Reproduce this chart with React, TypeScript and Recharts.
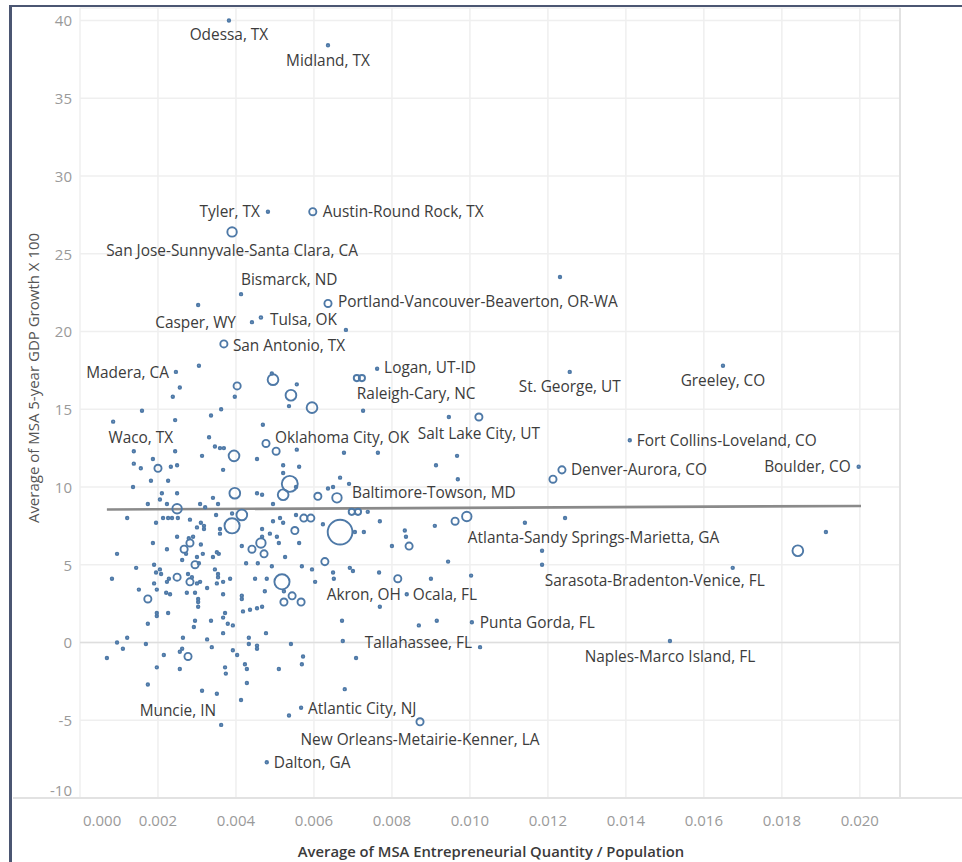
import React from 'react';
import {
  ScatterChart,
  Scatter,
  XAxis,
  YAxis,
  ZAxis,
  CartesianGrid,
  ReferenceLine,
} from 'recharts';

// x = entrepreneurial quantity / population, y = 5-year GDP growth x 100, pop = relative metro size
const labeledMetros: [string, number, number, number][] = [
  ['Odessa, TX', 0.00382, 40.0, 5],
  ['Midland, TX', 0.00636, 38.4, 5],
  ['Tyler, TX', 0.00482, 27.7, 5],
  ['Austin-Round Rock, TX', 0.00597, 27.7, 40],
  ['San Jose-Sunnyvale-Santa Clara, CA', 0.0039, 26.4, 70],
  ['Bismarck, ND', 0.00413, 22.4, 5],
  ['Portland-Vancouver-Beaverton, OR-WA', 0.00636, 21.8, 40],
  ['Casper, WY', 0.00441, 20.6, 5],
  ['Tulsa, OK', 0.00464, 20.9, 6],
  ['San Antonio, TX', 0.00369, 19.2, 40],
  ['Madera, CA', 0.00246, 17.4, 5],
  ['Logan, UT-ID', 0.00762, 17.6, 5],
  ['Raleigh-Cary, NC', 0.0071, 17.0, 30],
  ['St. George, UT', 0.01256, 17.4, 5],
  ['Greeley, CO', 0.01649, 17.8, 5],
  ['Salt Lake City, UT', 0.01023, 14.5, 40],
  ['Oklahoma City, OK', 0.00477, 12.8, 40],
  ['Waco, TX', 0.00138, 12.3, 5],
  ['Denver-Aurora, CO', 0.01236, 11.1, 40],
  ['Fort Collins-Loveland, CO', 0.0141, 13.0, 5],
  ['Boulder, CO', 0.01997, 11.3, 5],
  ['Baltimore-Towson, MD', 0.00659, 9.3, 70],
  ['Atlanta-Sandy Springs-Marietta, GA', 0.00992, 8.1, 70],
  ['Sarasota-Bradenton-Venice, FL', 0.01674, 4.8, 5],
  ['Naples-Marco Island, FL', 0.01513, 0.1, 5],
  ['Akron, OH', 0.00815, 4.1, 40],
  ['Ocala, FL', 0.00838, 3.1, 5],
  ['Punta Gorda, FL', 0.01005, 1.3, 5],
  ['Tallahassee, FL', 0.01026, -0.3, 5],
  ['Muncie, IN', 0.00362, -5.3, 5],
  ['Atlantic City, NJ', 0.00567, -4.2, 5],
  ['New Orleans-Metairie-Kenner, LA', 0.00872, -5.1, 40],
  ['Dalton, GA', 0.00479, -7.7, 5],
];

const otherMetros: [number, number, number][] = [
  [0.01231, 23.5, 5], [0.00303, 21.7, 5], [0.00682, 20.1, 5], [0.00305, 17.8, 5],
  [0.00723, 17.0, 30], [0.00495, 16.9, 90], [0.00492, 17.3, 5], [0.00256, 16.4, 5],
  [0.00238, 15.8, 5], [0.00403, 16.5, 40], [0.00397, 15.8, 5], [0.00556, 16.6, 5],
  [0.00541, 15.9, 90], [0.00536, 15.2, 5], [0.00595, 15.1, 90], [0.00085, 14.2, 5],
  [0.00159, 14.9, 5], [0.00244, 14.3, 5], [0.00336, 14.6, 5], [0.00362, 15.0, 5],
  [0.00469, 14.0, 5], [0.00331, 13.2, 5], [0.00346, 12.6, 5], [0.00359, 12.5, 5],
  [0.00369, 12.5, 5], [0.00395, 12.0, 90], [0.00313, 12.0, 5], [0.00454, 11.8, 5],
  [0.00503, 12.3, 40], [0.00556, 12.4, 5], [0.00187, 11.8, 5], [0.00244, 12.3, 5],
  [0.00138, 11.5, 5], [0.00156, 11.2, 5], [0.002, 11.2, 40], [0.00233, 11.3, 5],
  [0.00249, 11.4, 5], [0.00367, 11.1, 5], [0.00521, 11.4, 5], [0.00521, 10.9, 5],
  [0.00562, 11.3, 5], [0.00136, 10.0, 5], [0.00182, 10.4, 5], [0.00226, 10.4, 5],
  [0.0021, 9.6, 5], [0.00249, 9.6, 5], [0.00397, 9.6, 90], [0.00454, 9.6, 5],
  [0.00467, 9.5, 5], [0.00538, 10.2, 200], [0.00521, 9.5, 90], [0.00554, 10.0, 5],
  [0.00495, 8.9, 5], [0.0061, 9.4, 40], [0.00636, 9.9, 5], [0.00649, 10.0, 5],
  [0.00174, 8.9, 5], [0.00205, 9.2, 5], [0.00223, 8.9, 5], [0.00249, 8.6, 70],
  [0.00308, 8.9, 5], [0.00321, 8.7, 5], [0.00341, 9.3, 5], [0.00354, 8.9, 5],
  [0.00121, 8.0, 5], [0.00195, 7.7, 5], [0.00213, 8.0, 5], [0.00226, 8.0, 5],
  [0.00236, 8.0, 5], [0.00251, 8.0, 5], [0.00282, 7.9, 5], [0.003, 7.4, 5],
  [0.0031, 7.7, 5], [0.00318, 7.5, 5], [0.00318, 7.3, 5], [0.00349, 8.2, 5],
  [0.0039, 7.5, 180], [0.00415, 8.2, 90], [0.00359, 7.3, 5], [0.00359, 7.0, 5],
  [0.0039, 8.3, 5], [0.00467, 7.3, 5], [0.00495, 7.8, 5], [0.00513, 8.0, 5],
  [0.00521, 7.7, 5], [0.00554, 8.2, 5], [0.00574, 8.0, 40], [0.00592, 8.0, 40],
  [0.00623, 7.6, 5], [0.00667, 7.1, 480], [0.00279, 6.7, 5], [0.0029, 6.8, 5],
  [0.00467, 6.8, 5], [0.00487, 7.0, 5], [0.00505, 6.8, 5], [0.00551, 7.2, 40],
  [0.00187, 6.4, 5], [0.00223, 6.0, 5], [0.00249, 6.8, 5], [0.00282, 6.4, 40],
  [0.00267, 6.0, 40], [0.0031, 6.3, 5], [0.00262, 5.3, 5], [0.00272, 5.7, 5],
  [0.003, 5.5, 5], [0.00315, 5.7, 5], [0.00295, 5.0, 40], [0.00305, 5.1, 5],
  [0.00341, 5.5, 5], [0.00351, 5.8, 5], [0.00356, 5.7, 5], [0.00415, 6.2, 5],
  [0.00441, 6.0, 40], [0.00464, 6.4, 70], [0.00426, 5.1, 5], [0.00472, 5.7, 40],
  [0.00456, 5.1, 5], [0.00492, 4.9, 5], [0.0051, 6.4, 5], [0.00562, 6.4, 5],
  [0.00526, 5.5, 5], [0.00569, 4.9, 5], [0.00595, 4.7, 5], [0.00628, 5.2, 40],
  [0.00649, 4.5, 5], [0.00651, 4.1, 5], [0.00095, 5.7, 5], [0.00144, 4.8, 5],
  [0.00082, 4.1, 5], [0.00151, 3.4, 5], [0.0019, 5.0, 5], [0.00195, 4.5, 5],
  [0.00205, 4.7, 5], [0.00208, 4.4, 5], [0.00223, 3.9, 5], [0.00228, 4.1, 5],
  [0.00249, 4.2, 40], [0.0019, 3.8, 5], [0.00197, 3.4, 5], [0.00221, 3.2, 5],
  [0.00231, 3.1, 5], [0.00174, 2.8, 40], [0.00277, 4.4, 5], [0.00287, 4.2, 5],
  [0.00282, 3.9, 40], [0.00274, 3.2, 5], [0.003, 3.8, 5], [0.00308, 3.9, 5],
  [0.00326, 3.5, 5], [0.00346, 4.7, 5], [0.00354, 4.4, 5], [0.00354, 4.2, 5],
  [0.00351, 3.8, 5], [0.00367, 3.9, 5], [0.00385, 4.1, 5], [0.00295, 3.2, 5],
  [0.00303, 2.8, 5], [0.00303, 2.6, 5], [0.00303, 2.3, 5], [0.00367, 3.1, 5],
  [0.00449, 4.1, 5], [0.00479, 4.1, 5], [0.00518, 3.9, 180], [0.00523, 3.3, 5],
  [0.00523, 2.6, 40], [0.00544, 3.0, 40], [0.00567, 2.6, 40], [0.00474, 3.3, 5],
  [0.00415, 3.0, 5], [0.00415, 2.8, 5], [0.00418, 2.0, 5], [0.00436, 2.1, 5],
  [0.00454, 2.2, 5], [0.00467, 2.3, 5], [0.00603, 3.9, 5], [0.00197, 1.9, 5],
  [0.00197, 1.7, 5], [0.00226, 1.9, 5], [0.00174, 1.2, 5], [0.00295, 1.4, 5],
  [0.00292, 1.0, 5], [0.00336, 1.4, 5], [0.00372, 1.9, 5], [0.00367, 1.6, 5],
  [0.00392, 1.1, 5], [0.00367, 0.6, 5], [0.00477, 0.6, 5], [0.00095, 0.0, 5],
  [0.00121, 0.3, 5], [0.0011, -0.4, 5], [0.00169, -0.1, 5], [0.00069, -1.0, 5],
  [0.00264, 0.3, 5], [0.00262, -0.4, 5], [0.00256, -0.6, 5], [0.00277, -0.9, 40],
  [0.00326, 0.2, 5], [0.00338, -0.3, 5], [0.00392, -0.5, 5], [0.00403, -0.8, 5],
  [0.00433, 0.3, 5], [0.00433, -0.1, 5], [0.00454, -0.2, 5], [0.00454, -0.4, 5],
  [0.00541, -0.1, 5], [0.00572, -0.9, 5], [0.00569, -1.4, 5], [0.00215, -0.8, 5],
  [0.00197, -1.6, 5], [0.00256, -1.7, 5], [0.00372, -1.6, 5], [0.00374, -2.0, 5],
  [0.00423, -1.4, 5], [0.00428, -1.7, 5], [0.0051, -1.7, 5], [0.00428, -2.6, 5],
  [0.00174, -2.7, 5], [0.00313, -3.1, 5], [0.00351, -3.3, 5], [0.00413, -3.7, 5],
  [0.00536, -4.7, 5], [0.00379, 1.2, 5], [0.00726, 14.9, 5], [0.00946, 14.5, 5],
  [0.00677, 12.2, 5], [0.00764, 12.2, 5], [0.00967, 12.0, 5], [0.00913, 11.4, 5],
  [0.00969, 10.5, 5], [0.00667, 10.6, 5], [0.0069, 10.2, 5], [0.01213, 10.5, 40],
  [0.00697, 8.4, 30], [0.00713, 8.4, 30], [0.00738, 8.4, 5], [0.00769, 7.8, 5],
  [0.00728, 7.1, 5], [0.00705, 7.1, 5], [0.00833, 7.2, 5], [0.00836, 6.8, 5],
  [0.00844, 6.2, 40], [0.008, 6.2, 5], [0.0091, 7.5, 5], [0.00962, 7.8, 40],
  [0.01141, 7.7, 5], [0.01244, 8.0, 5], [0.01185, 5.9, 5], [0.01185, 5.0, 5],
  [0.00944, 5.2, 5], [0.01003, 4.3, 5], [0.00767, 4.5, 5], [0.009, 4.1, 5],
  [0.00692, 4.8, 5], [0.007, 4.6, 5], [0.00769, 2.3, 5], [0.00672, 1.4, 5],
  [0.00869, 1.1, 5], [0.00915, 1.4, 5], [0.00674, 0.1, 5], [0.00708, -1.0, 5],
  [0.00679, -3.0, 5], [0.01841, 5.9, 90], [0.01913, 7.1, 5],
];

// linear trend (start / end)
const trendX = [0.00069, 0.02003];
const trendY = [8.55, 8.78];

const xTicks = [0, 0.002, 0.004, 0.006, 0.008, 0.01, 0.012, 0.014, 0.016, 0.018, 0.02];
const yTicks = [-10, -5, 0, 5, 10, 15, 20, 25, 30, 35, 40];

// label placement next to its mark: [dx, dy, anchor]
const labelPlacement: Record<string, [number, number, 'start' | 'middle' | 'end']> = {
  'Odessa, TX': [0, 14, 'middle'],
  'Midland, TX': [0, 15, 'middle'],
  'Tyler, TX': [-8, 0, 'end'],
  'Austin-Round Rock, TX': [10, 0, 'start'],
  'San Jose-Sunnyvale-Santa Clara, CA': [0, 19, 'middle'],
  'Bismarck, ND': [0, -15, 'start'],
  'Portland-Vancouver-Beaverton, OR-WA': [10, -2, 'start'],
  'Casper, WY': [-16, 0, 'end'],
  'Tulsa, OK': [9, 2, 'start'],
  'San Antonio, TX': [9, 2, 'start'],
  'Madera, CA': [-7, 1, 'end'],
  'Logan, UT-ID': [7, -1, 'start'],
  'Raleigh-Cary, NC': [0, 15, 'start'],
  'St. George, UT': [0, 15, 'middle'],
  'Greeley, CO': [0, 15, 'middle'],
  'Salt Lake City, UT': [0, 17, 'middle'],
  'Oklahoma City, OK': [9, -6, 'start'],
  'Waco, TX': [7, -14, 'middle'],
  'Denver-Aurora, CO': [9, 0, 'start'],
  'Fort Collins-Loveland, CO': [7, 0, 'start'],
  'Boulder, CO': [-8, 0, 'end'],
  'Baltimore-Towson, MD': [15, -5, 'start'],
  'Atlanta-Sandy Springs-Marietta, GA': [1, 21, 'start'],
  'Sarasota-Bradenton-Venice, FL': [32, 13, 'end'],
  'Naples-Marco Island, FL': [0, 16, 'middle'],
  'Akron, OH': [3, 16, 'end'],
  'Ocala, FL': [6, 0, 'start'],
  'Punta Gorda, FL': [8, 0, 'start'],
  'Tallahassee, FL': [-8, -5, 'end'],
  'Muncie, IN': [-5, -14, 'end'],
  'Atlantic City, NJ': [7, 1, 'start'],
  'New Orleans-Metairie-Kenner, LA': [0, 18, 'middle'],
  'Dalton, GA': [7, 0, 'start'],
};

const X_MAX = 0.02103;
const Y_MIN = -10;
const Y_MAX = 40.8;
const MARK = '#4e79a7';
const FONT = '"Open Sans", "Noto Sans", sans-serif';

const labeledData = labeledMetros.map(([name, x, y, pop]) => ({ name, x, y, pop }));
const otherData = otherMetros.map(([x, y, pop]) => ({ x, y, pop }));

function Bubble(props: any) {
  const { cx, cy, size, width, payload } = props;
  if (cx == null || cy == null) return null;
  const area = typeof size === 'number' ? size : Math.PI * (width / 2) ** 2;
  const r = Math.max(Math.sqrt(area / Math.PI), 1.1);
  const place = payload && payload.name ? labelPlacement[payload.name] : null;
  return (
    <g>
      <circle cx={cx} cy={cy} r={r} fill="none" stroke={MARK} strokeWidth={1.9} />
      {place && (
        <text
          x={cx + place[0]}
          y={cy + place[1]}
          textAnchor={place[2]}
          dominantBaseline="central"
          fontSize={15.4}
          fontFamily={FONT}
          fill="#3c3c3c"
        >
          {payload.name}
        </text>
      )}
    </g>
  );
}

function XTick(props: any) {
  const { x, y, payload, index } = props;
  const first = index === 0;
  return (
    <text
      x={first ? x + 3 : x}
      y={y + 22}
      textAnchor={first ? 'start' : 'middle'}
      dominantBaseline="central"
      fontSize={15}
      fontFamily={FONT}
      fill="#9a9a9a"
    >
      {Number(payload.value).toFixed(3)}
    </text>
  );
}

function YTick(props: any) {
  const { x, y, payload } = props;
  const v = payload.value;
  return (
    <text
      x={x - 8}
      y={v === Y_MIN ? y - 8 : y}
      textAnchor="end"
      dominantBaseline="central"
      fontSize={15}
      fontFamily={FONT}
      fill="#9a9a9a"
    >
      {v}
    </text>
  );
}

export default function App() {
  return (
    <div
      style={{
        position: 'absolute',
        left: 0,
        top: 0,
        width: 962,
        height: 862,
        background: '#fff',
        overflow: 'hidden',
      }}
    >
      <ScatterChart
        width={962}
        height={862}
        margin={{ top: 8, right: 62, bottom: 4, left: 10 }}
      >
        <CartesianGrid stroke="#efefef" strokeWidth={1.5} />
        <XAxis
          type="number"
          dataKey="x"
          domain={[0, X_MAX]}
          ticks={xTicks}
          allowDataOverflow
          axisLine={false}
          tickLine={false}
          tickSize={0}
          tickMargin={0}
          height={60}
          tick={<XTick />}
          interval={0}
          label={{
            content: () => (
              <text
                x={491}
                y={851}
                textAnchor="middle"
                dominantBaseline="central"
                fontSize={14.8}
                fontWeight={600}
                fontFamily={FONT}
                fill="#3a3a3a"
              >
                Average of MSA Entrepreneurial Quantity / Population
              </text>
            ),
          }}
        />
        <YAxis
          type="number"
          dataKey="y"
          domain={[Y_MIN, Y_MAX]}
          ticks={yTicks}
          allowDataOverflow
          axisLine={false}
          tickLine={false}
          tickSize={0}
          tickMargin={0}
          width={70}
          tick={<YTick />}
          interval={0}
          label={{
            content: () => (
              <text
                x={33}
                y={378}
                transform="rotate(-90 33 378)"
                textAnchor="middle"
                dominantBaseline="central"
                fontSize={15}
                fontFamily={FONT}
                fill="#555"
              >
                Average of MSA 5-year GDP Growth X 100
              </text>
            ),
          }}
        />
        <ZAxis type="number" dataKey="pop" domain={[0, 500]} range={[0, 500]} />
        <ReferenceLine y={0} stroke="#dedede" strokeWidth={1.5} />
        <ReferenceLine x={X_MAX} stroke="#e2e2e2" strokeWidth={2} />
        <ReferenceLine
          segment={[
            { x: trendX[0], y: trendY[0] },
            { x: trendX[1], y: trendY[1] },
          ]}
          stroke="#8a8a8a"
          strokeWidth={2.6}
        />
        <Scatter data={otherData} shape={<Bubble />} isAnimationActive={false} />
        <Scatter data={labeledData} shape={<Bubble />} isAnimationActive={false} />
      </ScatterChart>
      <div
        style={{
          position: 'absolute',
          left: 13,
          top: 797,
          width: 949,
          height: 2,
          background: '#e2e2e2',
        }}
      />
      <div
        style={{
          position: 'absolute',
          left: 9,
          top: 5,
          right: 0,
          bottom: 0,
          borderTop: '2px solid #4b5672',
          borderLeft: '3px solid #4b5672',
          pointerEvents: 'none',
        }}
      />
    </div>
  );
}
